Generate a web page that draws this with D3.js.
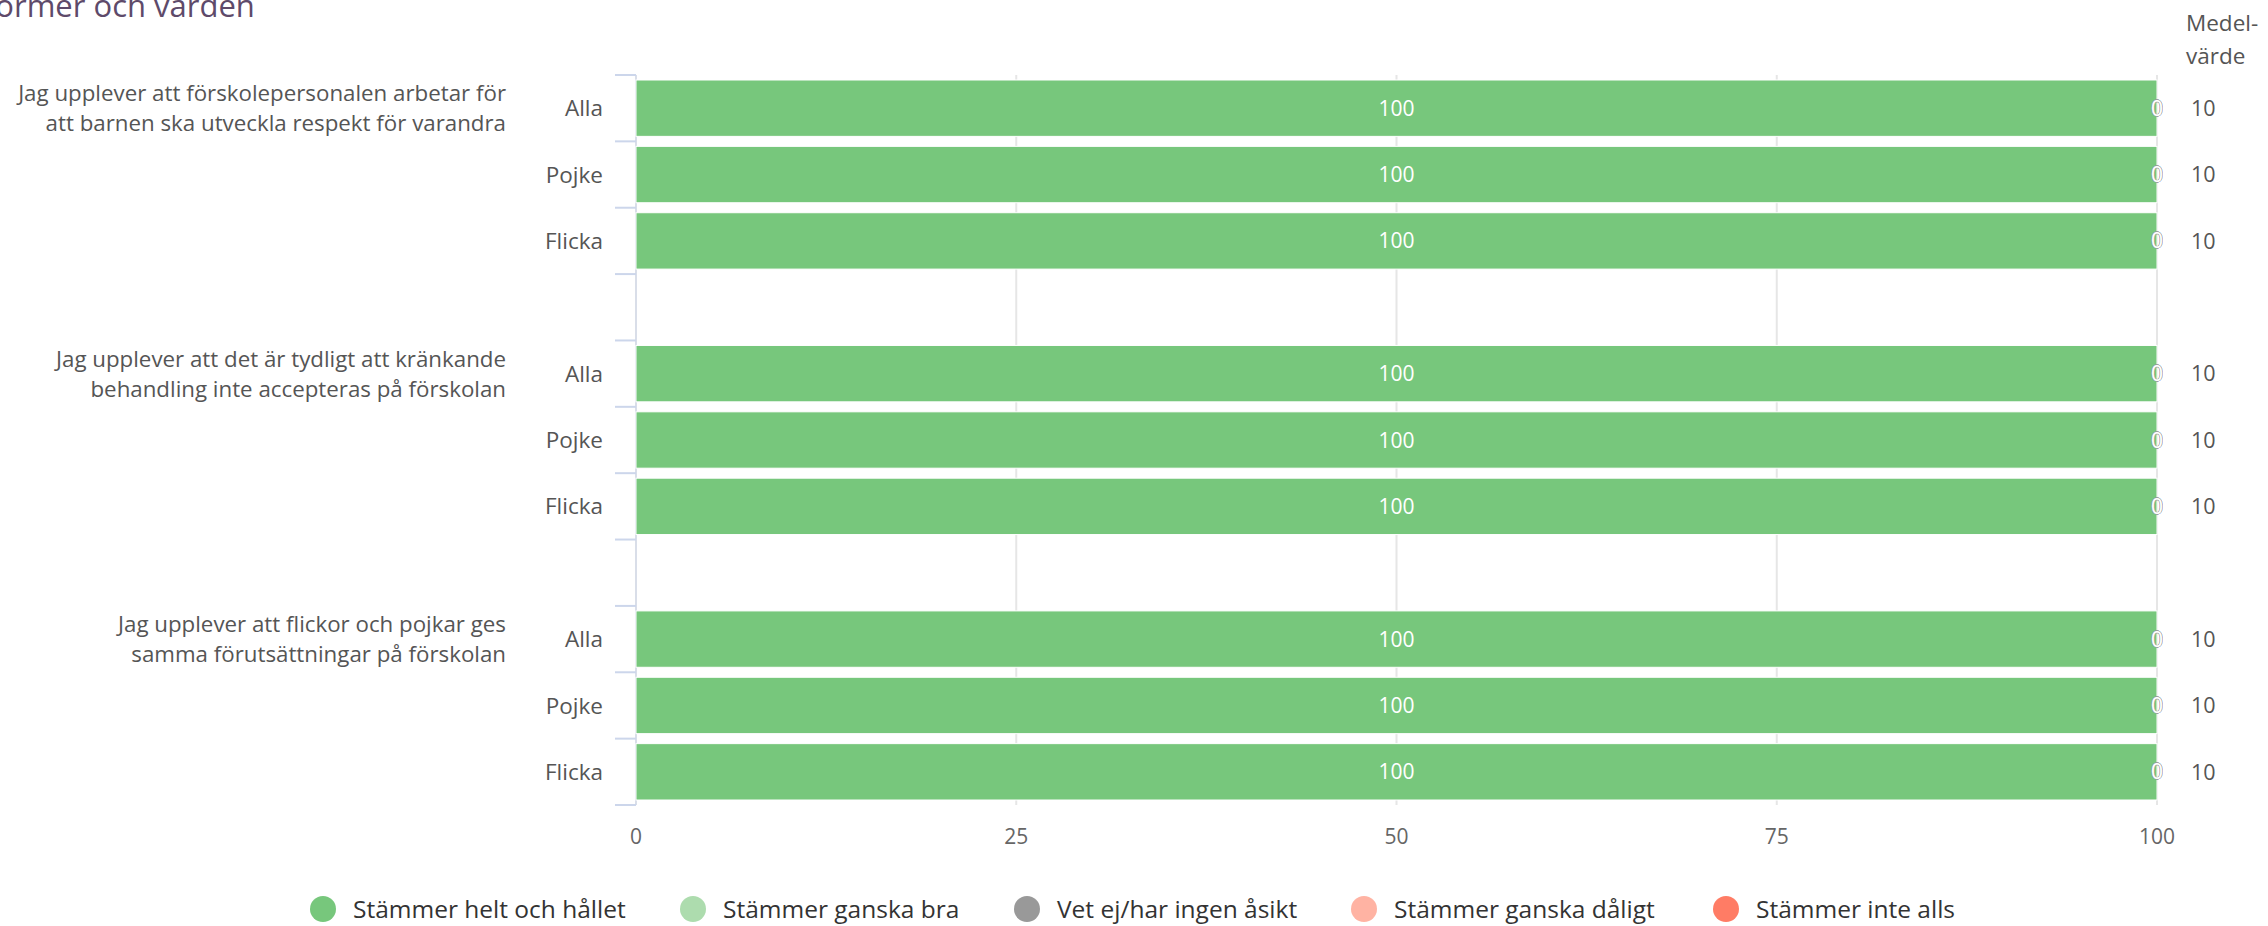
<!DOCTYPE html>
<html>
<head>
<meta charset="utf-8">
<script src="https://cdn.jsdelivr.net/npm/d3@7"></script>
<style>
  body { margin: 0; background: #fff; }
  svg { display: block; font-family: "Open Sans", Lato, sans-serif; }
</style>
</head>
<body>
<svg></svg>
<script>
const questions = [
    ['Jag upplever att förskolepersonalen arbetar för', 'att barnen ska utveckla respekt för varandra'],
    ['Jag upplever att det är tydligt att kränkande', 'behandling inte accepteras på förskolan'],
    ['Jag upplever att flickor och pojkar ges', 'samma förutsättningar på förskolan']
];
const groups = ['Alla', 'Pojke', 'Flicka'];

const seriesNames = ['Stämmer helt och hållet', 'Stämmer ganska bra', 'Vet ej/har ingen åsikt', 'Stämmer ganska dåligt', 'Stämmer inte alls'];
const seriesColors = ['#77c77c', '#addcae', '#999999', '#ffb3a3', '#ff7c65'];

// one value per bar (q1 Alla, Pojke, Flicka, q2 ..., q3 ...)
const helt      = [100, 100, 100, 100, 100, 100, 100, 100, 100];
const ganskaBra = [0, 0, 0, 0, 0, 0, 0, 0, 0];
const vetEj     = [0, 0, 0, 0, 0, 0, 0, 0, 0];
const daligt    = [0, 0, 0, 0, 0, 0, 0, 0, 0];
const inteAlls  = [0, 0, 0, 0, 0, 0, 0, 0, 0];
const means     = [10, 10, 10, 10, 10, 10, 10, 10, 10];

const xTicks = [0, 25, 50, 75, 100];

const width = 2268;
const height = 926;
const plotLeft = 636, plotRight = 2157, plotTop = 75, plotBottom = 805;

let svg = d3.select('svg').attr('width', width).attr('height', height);

// rows with spacer between question groups
let rows = [];
let bars = [];
questions.forEach((q, qi) => {
    groups.forEach((g, gi) => {
        let key = qi + '-' + g;
        rows.push(key);
        let i = qi * 3 + gi;
        bars.push({
            key: key, q: qi, g: g, mean: means[i],
            s0: helt[i], s1: ganskaBra[i], s2: vetEj[i], s3: daligt[i], s4: inteAlls[i]
        });
    });
    if (qi < questions.length - 1) rows.push('gap' + qi);
});

const xScale = d3.scaleLinear().domain([0, 100]).range([plotLeft, plotRight]);
const yScale = d3.scaleBand().domain(rows).range([plotTop, plotBottom]);
const bw = yScale.bandwidth();
const pad = 5;

// title (cut off at the left edge like the original)
svg.append('text')
    .attr('x', -28).attr('y', 17)
    .attr('fill', '#5e4a6a')
    .attr('font-size', 31)
    .text('Normer och värden');

// grid
svg.append('g')
    .selectAll('line')
    .data(xTicks)
    .enter()
    .append('line')
    .attr('x1', d => xScale(d)).attr('x2', d => xScale(d))
    .attr('y1', plotTop).attr('y2', plotBottom)
    .attr('stroke', '#e6e6e6')
    .attr('stroke-width', 2);

// x axis labels
svg.append('g')
    .selectAll('text')
    .data(xTicks)
    .enter()
    .append('text')
    .attr('x', d => xScale(d))
    .attr('y', 844)
    .attr('text-anchor', 'middle')
    .attr('fill', '#666')
    .attr('font-size', 21)
    .text(d => d);

// y axis line and ticks
let tickYs = rows.map(r => yScale(r)).concat([plotBottom]);
svg.append('line')
    .attr('x1', plotLeft).attr('x2', plotLeft)
    .attr('y1', plotTop).attr('y2', plotBottom)
    .attr('stroke', '#ccd6eb').attr('stroke-width', 1);
svg.append('g')
    .selectAll('line')
    .data(tickYs)
    .enter()
    .append('line')
    .attr('x1', plotLeft - 21).attr('x2', plotLeft)
    .attr('y1', d => d).attr('y2', d => d)
    .attr('stroke', '#ccd6eb')
    .attr('stroke-width', 2);

// stacked bars
const keys = ['s0', 's1', 's2', 's3', 's4'];
const stacked = d3.stack().keys(keys)(bars);

stacked.forEach((layer, li) => {
    svg.append('g')
        .selectAll('rect')
        .data(layer)
        .enter()
        .append('rect')
        .attr('x', d => xScale(d[0]))
        .attr('y', d => yScale(d.data.key) + pad)
        .attr('width', d => xScale(d[1]) - xScale(d[0]))
        .attr('height', bw - pad * 2)
        .attr('fill', seriesColors[li])
        .attr('stroke', '#fff')
        .attr('stroke-width', 1);
});

// data labels
stacked.forEach((layer, li) => {
    svg.append('g')
        .selectAll('text')
        .data(layer)
        .enter()
        .append('text')
        .attr('x', d => (xScale(d[0]) + xScale(d[1])) / 2)
        .attr('y', d => yScale(d.data.key) + bw / 2)
        .attr('dy', '0.36em')
        .attr('text-anchor', 'middle')
        .attr('font-size', 21)
        .attr('fill', '#fff')
        .attr('stroke', d => (d[1] - d[0]) === 0 ? '#999' : 'none')
        .attr('stroke-width', 0.8)
        .attr('paint-order', 'stroke')
        .text(d => d[1] - d[0]);
});

// sub-category labels
svg.append('g')
    .selectAll('text')
    .data(bars)
    .enter()
    .append('text')
    .attr('x', 603)
    .attr('y', d => yScale(d.key) + bw / 2)
    .attr('dy', '0.36em')
    .attr('text-anchor', 'end')
    .attr('fill', '#555')
    .attr('font-size', 22.5)
    .text(d => d.g);

// question labels, centred on the "Alla" row
let qLabels = svg.append('g')
    .selectAll('text')
    .data(questions)
    .enter()
    .append('text')
    .attr('text-anchor', 'end')
    .attr('fill', '#555')
    .attr('font-size', 22.3);
qLabels.each(function (d, qi) {
    let cy = yScale(qi + '-Alla') + bw / 2;
    d.forEach((line, li) => {
        d3.select(this).append('tspan')
            .attr('x', 506)
            .attr('y', cy - 15 + li * 30)
            .attr('dy', '0.36em')
            .text(line);
    });
});

// mean column
svg.append('text').attr('x', 2186).attr('y', 31).attr('fill', '#555').attr('font-size', 22.5).text('Medel-');
svg.append('text').attr('x', 2186).attr('y', 64).attr('fill', '#555').attr('font-size', 22.5).text('värde');
svg.append('g')
    .selectAll('text')
    .data(bars)
    .enter()
    .append('text')
    .attr('x', 2191)
    .attr('y', d => yScale(d.key) + bw / 2)
    .attr('dy', '0.36em')
    .attr('fill', '#555')
    .attr('font-size', 21.5)
    .text(d => d.mean);

// legend
const legendX = [323, 693, 1027, 1364, 1726];
let legend = svg.append('g')
    .selectAll('g')
    .data(seriesNames)
    .enter()
    .append('g')
    .attr('transform', (d, i) => 'translate(' + legendX[i] + ', 909)');
legend.append('circle')
    .attr('r', 13)
    .attr('fill', (d, i) => seriesColors[i]);
legend.append('text')
    .attr('x', 30)
    .attr('dy', '0.36em')
    .attr('fill', '#333')
    .attr('font-size', 24.5)
    .text(d => d);
</script>
</body>
</html>
